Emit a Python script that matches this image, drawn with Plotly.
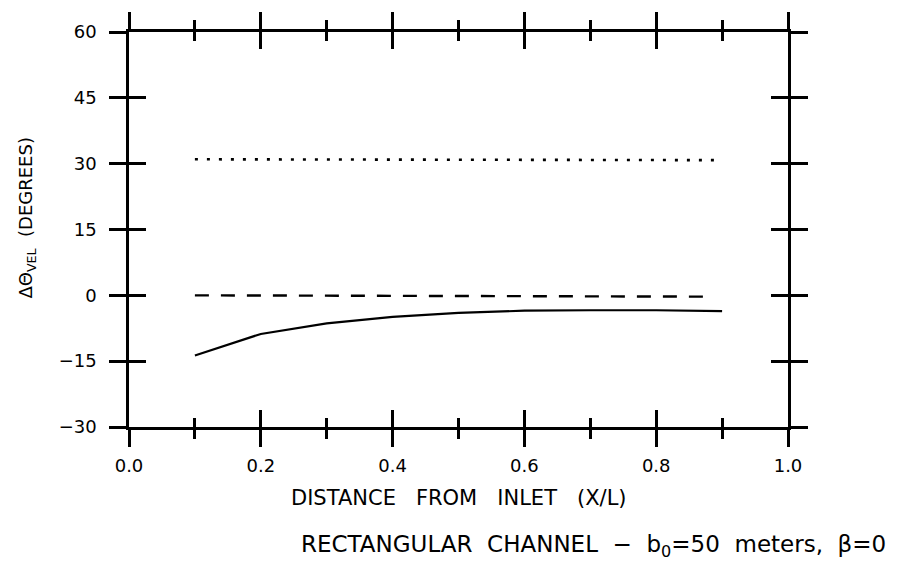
import plotly.graph_objects as go

# Position along the channel (fraction of channel length)
x_pos = [0.1, 0.2, 0.3, 0.4, 0.5, 0.6, 0.7, 0.8, 0.9]

# Change in velocity direction, degrees
dtheta_solid = [-13.7, -8.8, -6.4, -4.9, -4.0, -3.5, -3.4, -3.4, -3.6]
x_dash = [0.1, 0.88]
dtheta_dash = [0.0, -0.3]
x_dot = [0.1, 0.9]
dtheta_dot = [31.0, 30.8]

x_ticks = [0.0, 0.2, 0.4, 0.6, 0.8, 1.0]
x_tick_text = ["0.0", "0.2", "0.4", "0.6", "0.8", "1.0"]
y_ticks = [-30, -15, 0, 15, 30, 45, 60]
y_tick_text = ["\u221230", "\u221215", "0", "15", "30", "45", "60"]

FONT = "DejaVu Sans"
INK = "black"

fig = go.Figure()

fig.add_trace(go.Scatter(
    x=x_pos, y=dtheta_solid, mode="lines",
    line=dict(color=INK, width=2.2), xaxis="x", yaxis="y",
))
fig.add_trace(go.Scatter(
    x=x_dash, y=dtheta_dash, mode="lines",
    line=dict(color=INK, width=2.4, dash="14px,12px"), xaxis="x", yaxis="y",
))
fig.add_trace(go.Scatter(
    x=x_dot, y=dtheta_dot, mode="lines",
    line=dict(color=INK, width=2.6, dash="3px,9px"), xaxis="x2", yaxis="y2",
))

x_range = [0.0, 1.0]
y_range = [-30, 60]

common_x = dict(
    range=x_range, tickvals=x_ticks, showgrid=False, zeroline=False,
    showline=True, linecolor=INK, linewidth=2.5, mirror="ticks",
    ticklen=17, tickwidth=2.5, tickcolor=INK,
)
common_y = dict(
    range=y_range, tickvals=y_ticks, showgrid=False, zeroline=False,
    showline=True, linecolor=INK, linewidth=2.5, mirror="ticks",
    ticklen=17, tickwidth=2.5, tickcolor=INK,
)

fig.update_layout(
    width=897, height=563,
    margin=dict(l=129, r=109, t=25, b=136),
    paper_bgcolor="white", plot_bgcolor="white",
    showlegend=False,
    font=dict(family=FONT, color=INK, size=16),
    xaxis=dict(
        **common_x, ticks="outside", ticktext=x_tick_text,
        minor=dict(dtick=0.1, tick0=0, ticklen=9, tickwidth=2.5, tickcolor=INK, ticks="outside"),
        tickfont=dict(family=FONT, size=18), ticklabelstandoff=4,
    ),
    yaxis=dict(
        **common_y, ticks="outside", ticktext=y_tick_text,
        tickfont=dict(family=FONT, size=18), ticklabelstandoff=9,
    ),
    xaxis2=dict(
        **common_x, ticks="inside", showticklabels=False, overlaying="x", anchor="y2",
        minor=dict(dtick=0.1, tick0=0, ticklen=9, tickwidth=2.5, tickcolor=INK, ticks="inside"),
    ),
    yaxis2=dict(
        **common_y, ticks="inside", showticklabels=False, overlaying="y", anchor="x2",
    ),
    annotations=[
        dict(
            text="DISTANCE   FROM   INLET   (X/L)", x=0.5, y=-0.18,
            xref="paper", yref="paper", xanchor="center", yanchor="middle",
            showarrow=False, font=dict(family=FONT, size=21),
        ),
        dict(
            text="RECTANGULAR  CHANNEL  \u2212  b<sub>0</sub>=50  meters,  \u03b2=0",
            x=0.705, y=-0.302, xref="paper", yref="paper",
            xanchor="center", yanchor="middle",
            showarrow=False, font=dict(family=FONT, size=23),
        ),
        dict(
            text="\u0394\u0398<sub>VEL</sub>  (DEGREES)", x=-0.155, y=0.53,
            xref="paper", yref="paper", xanchor="center", yanchor="middle",
            textangle=-90, showarrow=False, font=dict(family=FONT, size=18),
        ),
    ],
)

fig.write_html("out.html")
